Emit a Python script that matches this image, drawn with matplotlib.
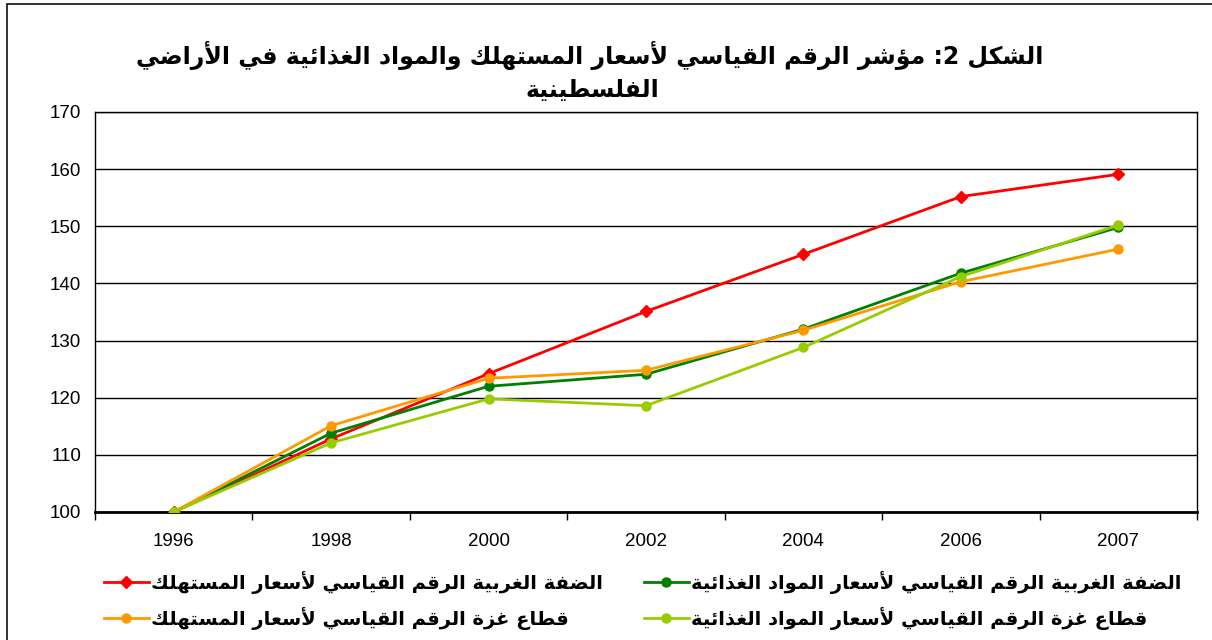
import numpy as np
import matplotlib
matplotlib.use('Agg')
import matplotlib.pyplot as plt
from matplotlib.patches import Rectangle

# data
years = ['1996', '1998', '2000', '2002', '2004', '2006', '2007']
wb_cpi = [100, 112.8, 124.2, 135.1, 145.1, 155.2, 159.1]
wb_food = [100, 113.8, 122.0, 124.1, 132.0, 141.8, 149.8]
gz_cpi = [100, 115.1, 123.4, 124.8, 131.8, 140.3, 146.0]
gz_food = [100, 112.1, 119.8, 118.6, 128.8, 141.2, 150.2]

title_1 = 'الشكل 2: مؤشر الرقم القياسي لأسعار المستهلك والمواد الغذائية في الأراضي'
title_2 = 'الفلسطينية'
lbl_wb_cpi = 'الضفة الغربية الرقم القياسي لأسعار المستهلك'
lbl_wb_food = 'الضفة الغربية الرقم القياسي لأسعار المواد الغذائية'
lbl_gz_cpi = 'قطاع غزة الرقم القياسي لأسعار المستهلك'
lbl_gz_food = 'قطاع غزة الرقم القياسي لأسعار المواد الغذائية'

# matplotlib has no arabic shaping -> map to presentation forms and reverse
# (isolated, final, initial, medial)
FORMS = {
    'ء': (0xFE80, None, None, None),
    'آ': (0xFE81, 0xFE82, None, None),
    'أ': (0xFE83, 0xFE84, None, None),
    'ؤ': (0xFE85, 0xFE86, None, None),
    'إ': (0xFE87, 0xFE88, None, None),
    'ئ': (0xFE89, 0xFE8A, 0xFE8B, 0xFE8C),
    'ا': (0xFE8D, 0xFE8E, None, None),
    'ب': (0xFE8F, 0xFE90, 0xFE91, 0xFE92),
    'ة': (0xFE93, 0xFE94, None, None),
    'ت': (0xFE95, 0xFE96, 0xFE97, 0xFE98),
    'ث': (0xFE99, 0xFE9A, 0xFE9B, 0xFE9C),
    'ج': (0xFE9D, 0xFE9E, 0xFE9F, 0xFEA0),
    'ح': (0xFEA1, 0xFEA2, 0xFEA3, 0xFEA4),
    'خ': (0xFEA5, 0xFEA6, 0xFEA7, 0xFEA8),
    'د': (0xFEA9, 0xFEAA, None, None),
    'ذ': (0xFEAB, 0xFEAC, None, None),
    'ر': (0xFEAD, 0xFEAE, None, None),
    'ز': (0xFEAF, 0xFEB0, None, None),
    'س': (0xFEB1, 0xFEB2, 0xFEB3, 0xFEB4),
    'ش': (0xFEB5, 0xFEB6, 0xFEB7, 0xFEB8),
    'ص': (0xFEB9, 0xFEBA, 0xFEBB, 0xFEBC),
    'ض': (0xFEBD, 0xFEBE, 0xFEBF, 0xFEC0),
    'ط': (0xFEC1, 0xFEC2, 0xFEC3, 0xFEC4),
    'ظ': (0xFEC5, 0xFEC6, 0xFEC7, 0xFEC8),
    'ع': (0xFEC9, 0xFECA, 0xFECB, 0xFECC),
    'غ': (0xFECD, 0xFECE, 0xFECF, 0xFED0),
    'ف': (0xFED1, 0xFED2, 0xFED3, 0xFED4),
    'ق': (0xFED5, 0xFED6, 0xFED7, 0xFED8),
    'ك': (0xFED9, 0xFEDA, 0xFEDB, 0xFEDC),
    'ل': (0xFEDD, 0xFEDE, 0xFEDF, 0xFEE0),
    'م': (0xFEE1, 0xFEE2, 0xFEE3, 0xFEE4),
    'ن': (0xFEE5, 0xFEE6, 0xFEE7, 0xFEE8),
    'ه': (0xFEE9, 0xFEEA, 0xFEEB, 0xFEEC),
    'و': (0xFEED, 0xFEEE, None, None),
    'ى': (0xFEEF, 0xFEF0, None, None),
    'ي': (0xFEF1, 0xFEF2, 0xFEF3, 0xFEF4),
    # lam-alef ligatures (placeholders)
    '\uE001': (0xFEFB, 0xFEFC, None, None),
    '\uE002': (0xFEF7, 0xFEF8, None, None),
    '\uE003': (0xFEF9, 0xFEFA, None, None),
    '\uE004': (0xFEF5, 0xFEF6, None, None),
}


def shape(text):
    text = (text.replace('لا', '\uE001').replace('لأ', '\uE002')
            .replace('لإ', '\uE003').replace('لآ', '\uE004'))
    out = []
    n = len(text)
    for i, ch in enumerate(text):
        if ch not in FORMS:
            out.append(ch)
            continue
        f = FORMS[ch]
        prev = text[i - 1] if i > 0 else ''
        nxt = text[i + 1] if i < n - 1 else ''
        join_prev = prev in FORMS and FORMS[prev][2] is not None and f[1] is not None
        join_next = nxt in FORMS and f[2] is not None and FORMS[nxt][1] is not None
        if join_prev and join_next:
            out.append(chr(f[3]))
        elif join_prev:
            out.append(chr(f[1]))
        elif join_next:
            out.append(chr(f[2]))
        else:
            out.append(chr(f[0]))
    return ''.join(out)[::-1]


plt.rcParams['font.family'] = ['Liberation Sans', 'DejaVu Sans']
ar_font = dict(family='DejaVu Sans', weight='bold')

fig = plt.figure(figsize=(12.12, 6.4), dpi=100)
ax = fig.add_axes([95 / 1212, 1 - 512 / 640, 1102 / 1212, 400 / 640])

x = np.arange(len(years))
l1, = ax.plot(x, wb_cpi, color='#FF0000', lw=2, marker='D', ms=6, zorder=3)
l2, = ax.plot(x, wb_food, color='#008000', lw=2, marker='o', ms=6.5, zorder=3)
l3, = ax.plot(x, gz_cpi, color='#FF9900', lw=2, marker='o', ms=6.5, zorder=3)
l4, = ax.plot(x, gz_food, color='#99CC00', lw=2, marker='o', ms=6.5, zorder=3)

ax.set_xlim(-0.5, len(years) - 0.5)
ax.set_ylim(100, 170)
ax.set_yticks(np.arange(100, 171, 10))
ax.set_xticks(x)
ax.set_xticklabels(years)
ax.set_xticks(np.arange(-0.5, len(years), 1), minor=True)
ax.tick_params(axis='x', which='major', length=0, pad=15, labelsize=13.5)
ax.tick_params(axis='x', which='minor', length=6, width=1, direction='out', color='black')
ax.tick_params(axis='y', length=0, pad=10, labelsize=13.5)
ax.yaxis.grid(True, color='black', lw=1)
ax.set_axisbelow(True)
for s in ax.spines.values():
    s.set_color('black')
    s.set_linewidth(1)
ax.spines['bottom'].set_linewidth(2)

# title in two lines as in the original
fig.text(590 / 1212, 1 - 56 / 640, shape(title_1), ha='center', va='center', fontsize=17, **ar_font)
fig.text(592 / 1212, 1 - 90 / 640, shape(title_2), ha='center', va='center', fontsize=17, **ar_font)

# two legend columns
leg_kw = dict(frameon=False, handlelength=2.3, handletextpad=0.12, labelspacing=0.65,
              prop=dict(family='DejaVu Sans', weight='bold', size=14), loc='upper left',
              borderaxespad=0, borderpad=0)
leg1 = fig.legend([l1, l3], [shape(lbl_wb_cpi), shape(lbl_gz_cpi)],
                  bbox_to_anchor=(104 / 1212, 1 - 571 / 640), **leg_kw)
leg2 = fig.legend([l2, l4], [shape(lbl_wb_food), shape(lbl_gz_food)],
                  bbox_to_anchor=(644 / 1212, 1 - 571 / 640), **leg_kw)

# chart area frame (cut off at right and bottom in the source)
fig.patches.append(Rectangle((7 / 1212, -0.1), 1.2, 1.1 - 4 / 640, transform=fig.transFigure,
                             fill=False, edgecolor='#222222', lw=1.3))

fig.savefig('out.png', dpi=100)
